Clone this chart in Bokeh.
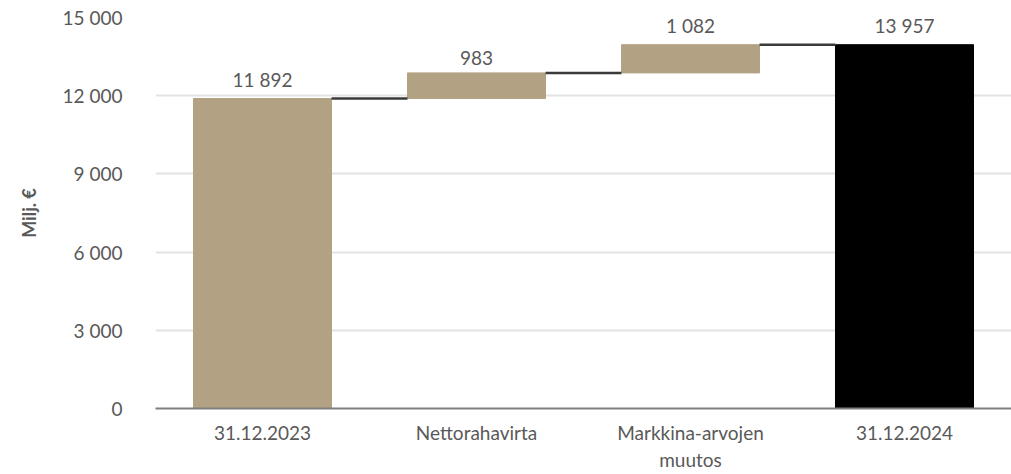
from bokeh.plotting import figure
from bokeh.models import Range1d, FixedTicker, ColumnDataSource
from bokeh.embed import file_html
from bokeh.resources import INLINE

# ---- data ----
categories = ["31.12.2023", "Nettorahavirta", "Markkina-arvojen\nmuutos", "31.12.2024"]
values = [11892, 983, 1082, 13957]
kinds = ["total", "delta", "delta", "total"]
colors = ["#b2a283", "#b2a283", "#b2a283", "#000000"]
y_ticks = [0, 3000, 6000, 9000, 12000, 15000]
y_tick_labels = ["0", "3 000", "6 000", "9 000", "12 000", "15 000"]
y_label = "Milj. €"

FONT = "Lato"
TXT = "#595959"
BAR_W = 0.645

# waterfall geometry from data
xs, tops, bottoms, labels = [], [], [], []
running = 0
for i, (v, k) in enumerate(zip(values, kinds)):
    if k == "total":
        b, t = 0, v
        running = v
    else:
        b, t = running, running + v
        running = t
    xs.append(i)
    bottoms.append(b)
    tops.append(t)
    labels.append(f"{v:,}".replace(",", " "))

src = ColumnDataSource(dict(x=xs, top=tops, bottom=bottoms, color=colors, label=labels))

p = figure(width=1011, height=474, output_backend="svg", toolbar_location=None,
           x_range=Range1d(-0.5, 3.5), y_range=Range1d(0, 15000),
           min_border_left=155, min_border_right=0, min_border_top=17, min_border_bottom=66)
p.outline_line_color = None
p.background_fill_color = "white"
p.border_fill_color = "white"

p.vbar(x="x", top="top", bottom="bottom", width=BAR_W, color="color", source=src)

# connectors
cx0 = [x + BAR_W / 2 for x in xs[:-1]]
cx1 = [x + 1 - BAR_W / 2 for x in xs[:-1]]
cy = tops[:-1]
p.segment(x0=cx0, x1=cx1, y0=cy, y1=cy, line_color="#3a3a3a", line_width=2.5)

p.text(x="x", y="top", text="label", source=src, text_align="center", text_baseline="bottom",
       y_offset=-8, text_font_size="19px", text_color=TXT, text_font={"value": FONT})

# axes
p.xaxis.ticker = FixedTicker(ticks=xs)
p.xaxis.major_label_overrides = {x: c for x, c in zip(xs, categories)}
p.xaxis.axis_line_color = "#7f7f7f"
p.xaxis.axis_line_width = 2
p.xaxis.major_tick_line_color = None
p.xaxis.minor_tick_line_color = None
p.xaxis.major_tick_out = 0
p.xaxis.major_label_standoff = 12
p.xaxis.major_label_text_font = FONT
p.xaxis.major_label_text_font_size = "19px"
p.xaxis.major_label_text_color = TXT

p.yaxis.ticker = FixedTicker(ticks=y_ticks)
p.yaxis.major_label_overrides = {t: l for t, l in zip(y_ticks, y_tick_labels)}
p.yaxis.axis_line_color = None
p.yaxis.major_tick_line_color = None
p.yaxis.minor_tick_line_color = None
p.yaxis.major_tick_out = 0
p.yaxis.major_label_standoff = 33
p.yaxis.major_label_text_font = FONT
p.yaxis.major_label_text_font_size = "19px"
p.yaxis.major_label_text_color = TXT
p.yaxis.axis_label = y_label
p.yaxis.axis_label_text_font = FONT
p.yaxis.axis_label_text_font_size = "18px"
p.yaxis.axis_label_text_font_style = "bold"
p.yaxis.axis_label_text_color = TXT
p.yaxis.axis_label_standoff = 20

p.xgrid.grid_line_color = None
p.ygrid.grid_line_color = "#e3e3e3"
p.ygrid.grid_line_width = 2

open("out.html", "w").write(file_html(p, INLINE))
